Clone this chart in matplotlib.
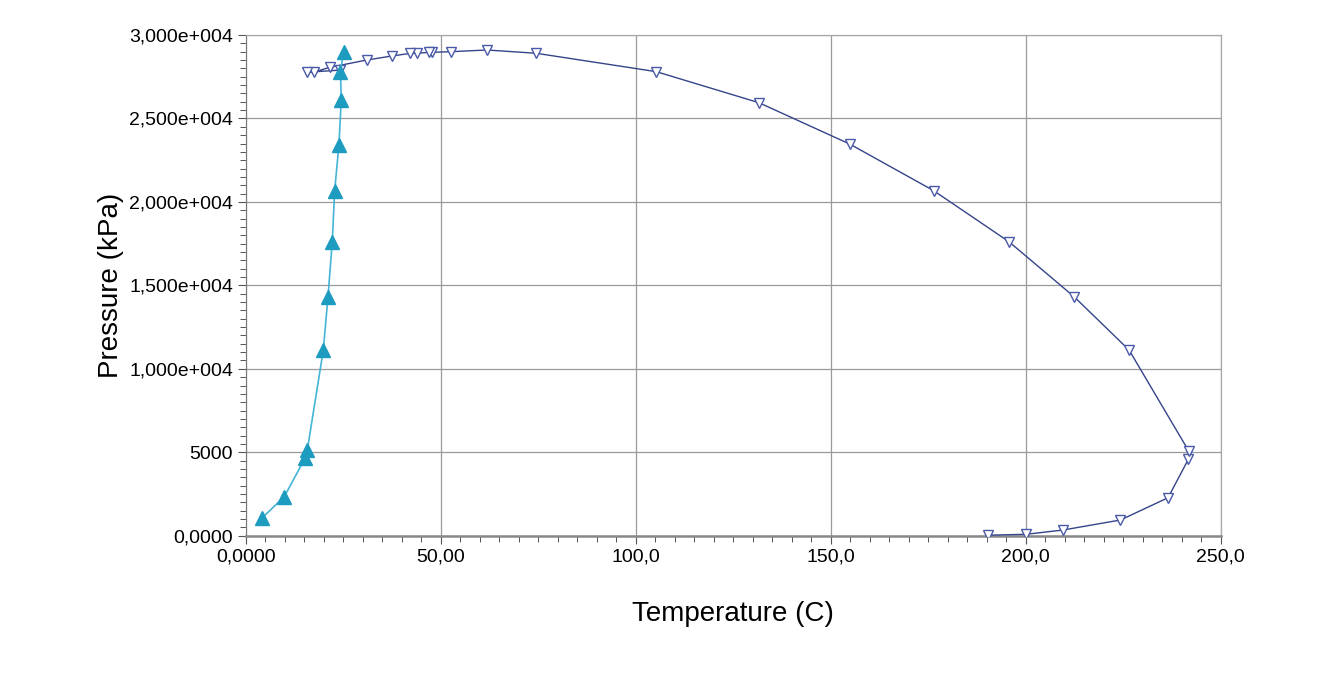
import matplotlib
matplotlib.use("Agg")
import matplotlib.pyplot as plt
from matplotlib.ticker import MultipleLocator, FixedLocator, FixedFormatter

plt.rcParams["font.family"] = ["Liberation Sans", "DejaVu Sans"]

# bubble point curve (filled triangles)
bubble_t = [4.1, 9.9, 15.2, 15.8, 19.9, 21.1, 22.2, 22.8, 23.9, 24.5, 24.3, 25.1]
bubble_p = [1040, 2340, 4640, 5140, 11130, 14320, 17620, 20650, 23410, 26110, 27800, 29000]

# dew point curve (open triangles)
dew_t = [190.3, 200.1, 209.6, 224.3, 236.5, 241.7, 241.8, 226.5, 212.4, 195.7,
         176.4, 155.0, 131.6, 105.3, 74.5, 61.9, 52.6, 47.8, 46.9, 43.9,
         42.2, 37.5, 31.1, 21.6, 17.6, 15.7, 24.3]
dew_p = [30, 84, 342, 941, 2277, 4578, 5075, 11127, 14321, 17616,
         20673, 23453, 25945, 27803, 28906, 29103, 29001, 28966, 28960, 28906,
         28900, 28744, 28504, 28067, 27785, 27767, 27900]

x_ticks = [0, 50, 100, 150, 200, 250]
x_labels = ["0,0000", "50,00", "100,0", "150,0", "200,0", "250,0"]
y_ticks = [0, 5000, 10000, 15000, 20000, 25000, 30000]
y_labels = ["0,0000", "5000", "1,000e+004", "1,500e+004", "2,000e+004",
            "2,500e+004", "3,000e+004"]

fig = plt.figure(figsize=(13.26, 6.84), dpi=100)
ax = fig.add_axes([0.1853, 0.2168, 0.7353, 0.7320])

ax.plot(dew_t, dew_p, color="#34448a", lw=1.0, marker="v", ms=6.5,
        mfc="white", mec="#4a5aa8", mew=1.0, zorder=3)
ax.plot(bubble_t, bubble_p, color="#45b4d6", lw=1.2, marker="^", ms=10.5,
        mfc="#1e9cc0", mec="#1e9cc0", zorder=4)

ax.set_xlim(0, 250)
ax.set_ylim(0, 30000)

ax.xaxis.set_major_locator(FixedLocator(x_ticks))
ax.xaxis.set_major_formatter(FixedFormatter(x_labels))
ax.yaxis.set_major_locator(FixedLocator(y_ticks))
ax.yaxis.set_major_formatter(FixedFormatter(y_labels))
ax.xaxis.set_minor_locator(MultipleLocator(5))
ax.yaxis.set_minor_locator(MultipleLocator(500))

ax.tick_params(which="major", direction="out", length=6, width=0.8,
               color="#555555", labelsize=14, pad=3)
ax.tick_params(which="minor", direction="out", length=4, width=0.7,
               color="#555555")

ax.grid(True, which="major", color="#9a9a9a", lw=0.9)
for side in ["top", "right"]:
    ax.spines[side].set_color("#a8a8a8")
    ax.spines[side].set_linewidth(0.9)
ax.spines["left"].set_color("#777777")
ax.spines["bottom"].set_color("#888888")
ax.spines["bottom"].set_linewidth(1.8)

ax.set_xlabel("Temperature (C)", fontsize=20, labelpad=26)
ax.set_ylabel("Pressure (kPa)", fontsize=20, labelpad=4)

plt.savefig("out.png", dpi=100)
